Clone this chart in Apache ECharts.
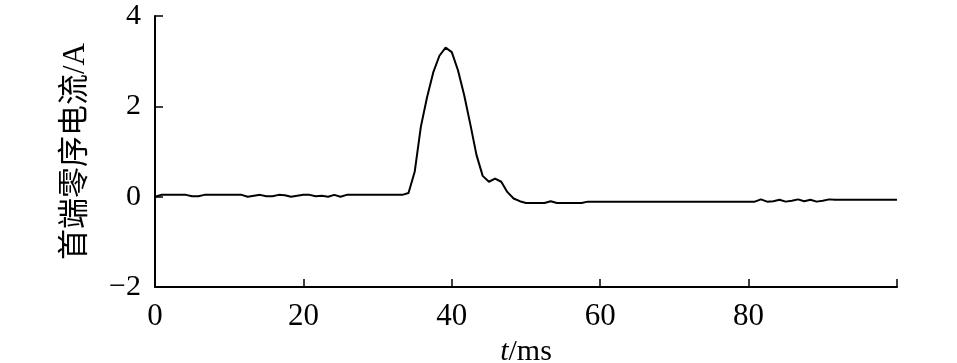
<!DOCTYPE html>
<html><head><meta charset="utf-8">
<script src="https://cdn.jsdelivr.net/npm/echarts@6/dist/echarts.min.js"></script>
<style>html,body{margin:0;padding:0;background:#fff}#c{width:957px;height:363px}</style>
</head><body><div id="c"></div>
<script>
// sampling interval (ms) of the recorded waveform
const sampleStepMs = 0.8333;
// zero-sequence current at the sending end (A), one value per sample
const currentA = [
  0.00, 0.04, 0.04, 0.04, 0.04, 0.04, 0.01, 0.01, 0.04, 0.04,
  0.04, 0.04, 0.04, 0.04, 0.04, 0.00, 0.02, 0.04, 0.01, 0.01,
  0.04, 0.03, 0.00, 0.02, 0.04, 0.04, 0.01, 0.02, 0.00, 0.04,
  0.00, 0.04, 0.04, 0.04, 0.04, 0.04, 0.04, 0.04, 0.04, 0.04,
  0.04, 0.08, 0.55, 1.55, 2.20, 2.75, 3.12, 3.30, 3.20, 2.80,
  2.25, 1.60, 0.92, 0.46, 0.33, 0.40, 0.33, 0.10, -0.04, -0.10,
  -0.14, -0.14, -0.14, -0.14, -0.10, -0.14, -0.14, -0.14, -0.14, -0.14,
  -0.11, -0.11, -0.11, -0.11, -0.11, -0.11, -0.11, -0.11, -0.11, -0.11,
  -0.11, -0.11, -0.11, -0.11, -0.11, -0.11, -0.11, -0.11, -0.11, -0.11,
  -0.11, -0.11, -0.11, -0.11, -0.11, -0.11, -0.11, -0.11, -0.06, -0.11,
  -0.10, -0.07, -0.11, -0.09, -0.06, -0.10, -0.07, -0.11, -0.09, -0.06,
  -0.07, -0.07, -0.07, -0.07, -0.07, -0.07, -0.07, -0.07, -0.07, -0.07,
  -0.07
];
const xTicks = [0, 20, 40, 60, 80];
const yTicks = [-2, 0, 2, 4];
const yAxisTitle = '首端零序电流/A';

const seriesData = currentA.map((v, i) => [i * sampleStepMs, v]);
const serif = '"Liberation Serif","DejaVu Serif",serif';

const chart = echarts.init(document.getElementById('c'));
chart.setOption({
  animation: false,
  grid: { left: 155, right: 60, top: 16, bottom: 76, containLabel: false, outerBoundsMode: 'none' },
  xAxis: {
    type: 'value', min: 0, max: 100, interval: 20,
    name: '{i|t}/ms', nameLocation: 'middle', nameGap: 50,
    nameTextStyle: { fontFamily: serif, fontSize: 30, color: '#000',
      rich: { i: { fontFamily: serif, fontSize: 30, fontStyle: 'italic', color: '#000' } } },
    axisLine: { onZero: false, lineStyle: { color: '#000', width: 2 } },
    axisTick: { inside: true, length: 8, lineStyle: { color: '#000', width: 1.5 } },
    splitLine: { show: false },
    axisLabel: { fontFamily: serif, fontSize: 31, color: '#000', margin: 14,
      formatter: v => xTicks.includes(v) ? String(v) : '' }
  },
  yAxis: {
    type: 'value', min: -2, max: 4, interval: 2,
    name: yAxisTitle, nameLocation: 'middle', nameGap: 64,
    nameTextStyle: { fontFamily: '"Liberation Serif","Noto Sans CJK SC",serif', fontSize: 31, color: '#000' },
    axisLine: { show: true, onZero: false, lineStyle: { color: '#000', width: 2 } },
    axisTick: { show: true, inside: true, length: 8, lineStyle: { color: '#000', width: 1.5 } },
    splitLine: { show: false },
    axisLabel: { fontFamily: serif, fontSize: 30, color: '#000', margin: 14,
      formatter: v => yTicks.includes(v) ? String(v).replace('-', '\u2212') : '' }
  },
  series: [{
    type: 'line', data: seriesData, showSymbol: false, symbol: 'none',
    lineStyle: { color: '#000', width: 2 }
  }]
});
</script></body></html>
